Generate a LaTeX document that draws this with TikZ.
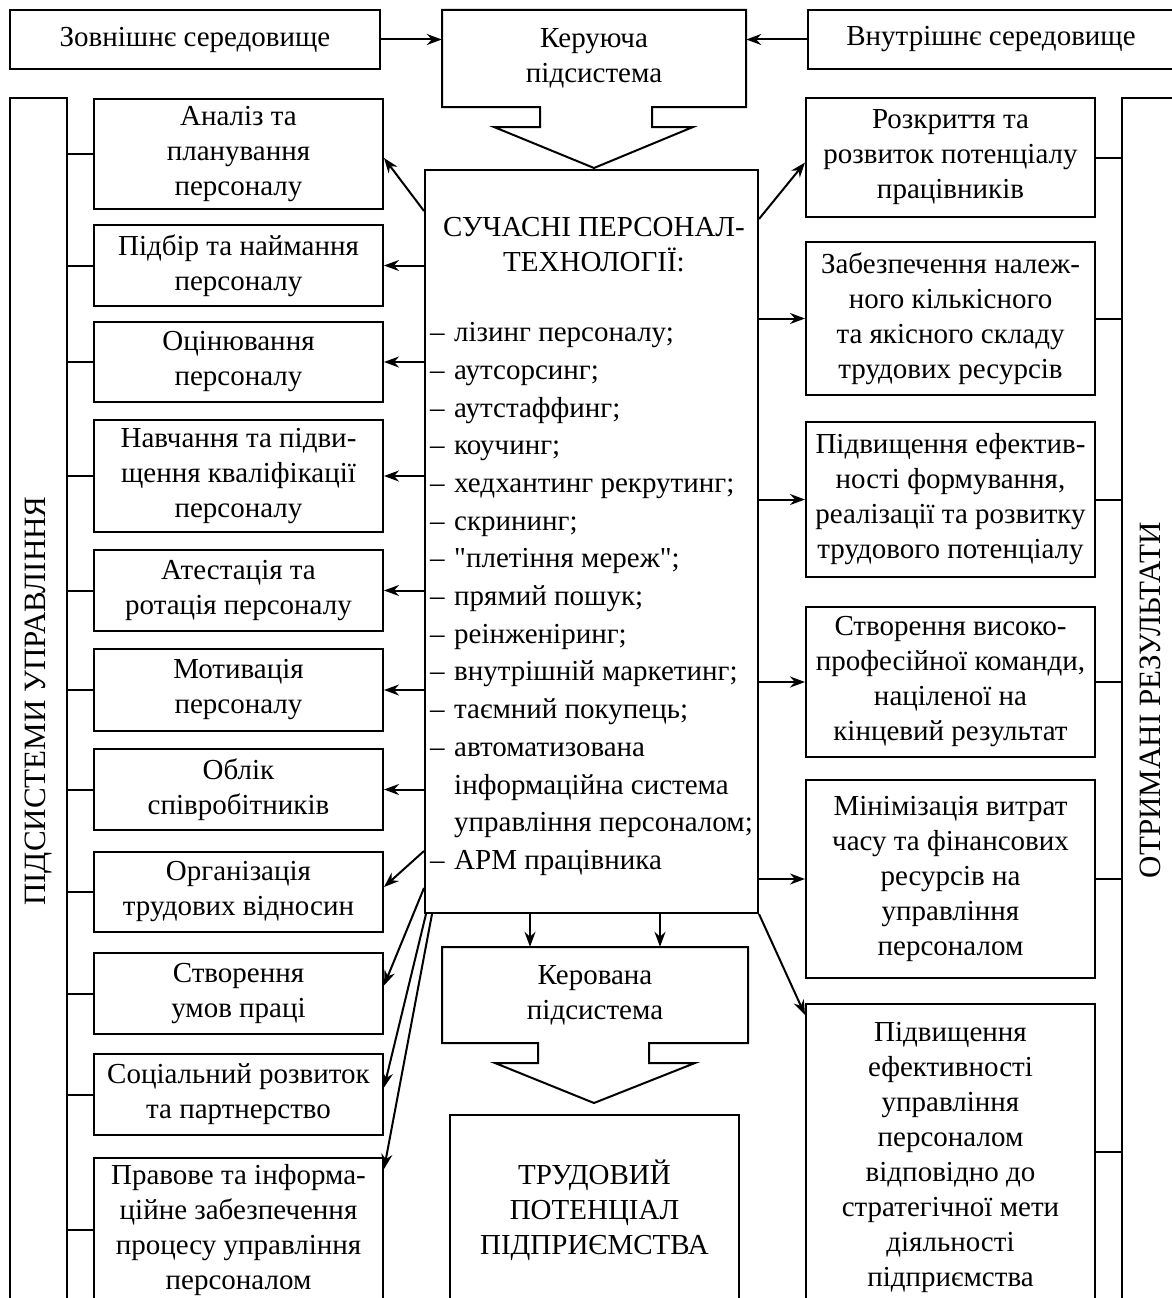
\documentclass[tikz,border=0pt]{standalone}
\usepackage{fontspec}
\setmainfont{Liberation Serif}[Ligatures=TeXOff]
\usetikzlibrary{shapes.geometric, arrows.meta, positioning}
\tikzstyle{box} = [rectangle, draw=black, line width=2pt, inner sep=0pt, align=center, text centered, font=\fontsize{29}{35}\selectfont]
\tikzstyle{txt} = [inner sep=0pt, align=center, font=\fontsize{29}{35}\selectfont]
\tikzstyle{sidetxt} = [inner sep=0pt, rotate=90, font=\fontsize{31}{35}\selectfont]
\tikzstyle{arrow} = [line width=2pt, -{Stealth[length=15pt, width=11pt]}]
\tikzstyle{wire} = [line width=2pt]
\newcommand{\dashitem}{\makebox[24pt][l]{–}}
\newcommand{\moreitem}{\hspace*{24pt}}

\begin{document}
\begin{tikzpicture}[x=1pt, y=-1pt]
      \useasboundingbox (0,0) rectangle (1172,1298);
      \clip (0,0) rectangle (1172,1298);

      % top row
      \node (extenv) [box, minimum width=370pt, minimum height=59pt] at (195,39.5) {Зовнішнє середовище};
      \node (intenv) [box, minimum width=366pt, minimum height=59pt] at (991,39.5) {Внутрішнє середовище};
      \draw [wire] (442,10) -- (746,10) -- (746,107) -- (652,107) -- (652,127) -- (693,127) -- (594,168)
            -- (494,127) -- (540,127) -- (540,107) -- (442,107) -- cycle;
      \node (ctrl) [txt, minimum width=304pt, minimum height=97pt] at (594,58.5) {Керуюча\\підсистема};
      \draw [arrow] (extenv.east) -- (extenv.east -| ctrl.west);
      \draw [arrow] (intenv.west) -- (intenv.west -| ctrl.east);

      % centre
      \node (tech) [box, minimum width=333pt, minimum height=743pt] at (591.5,541.5) {};
      \node (techtitle) [txt] at (594,245) {СУЧАСНІ ПЕРСОНАЛ-\\ТЕХНОЛОГІЇ:};
      \node (techlist) [txt, align=left, anchor=west, font=\fontsize{29}{37.7}\selectfont] at (430,599) {%
            \dashitem лізинг персоналу;\\
            \dashitem аутсорсинг;\\
            \dashitem аутстаффинг;\\
            \dashitem коучинг;\\
            \dashitem хедхантинг рекрутинг;\\
            \dashitem скрининг;\\
            \dashitem "плетіння мереж";\\
            \dashitem прямий пошук;\\
            \dashitem реінженіринг;\\
            \dashitem внутрішній маркетинг;\\
            \dashitem таємний покупець;\\
            \dashitem автоматизована\\
            \moreitem інформаційна система\\
            \moreitem управління персоналом;\\
            \dashitem АРМ працівника};

      \draw [wire] (442,947) -- (748,947) -- (748,1043) -- (649,1043) -- (649,1063) -- (695,1063) -- (594,1103)
            -- (495,1063) -- (538,1063) -- (538,1043) -- (442,1043) -- cycle;
      \node (managed) [txt, minimum width=306pt, minimum height=96pt] at (595,995) {Керована\\підсистема};
      \node (labpot) [box, minimum width=289pt, minimum height=190pt] at (594.5,1210) {ТРУДОВИЙ\\ПОТЕНЦІАЛ\\ПІДПРИЄМСТВА};
      \draw [arrow] ([xshift=-65pt]managed.north |- tech.south) -- ([xshift=-65pt]managed.north);
      \draw [arrow] ([xshift=65pt]managed.north |- tech.south) -- ([xshift=65pt]managed.north);

      % left column
      \node (subs) [box, minimum width=57pt, minimum height=1212pt] at (38.5,704) {};
      \node (subslabel) [sidetxt] at (39,701) {ПІДСИСТЕМИ УПРАВЛІННЯ};
      \node (anal) [box, minimum width=289pt, minimum height=110pt] at (238.5,154) {Аналіз та\\планування\\персоналу};
      \node (recr) [box, minimum width=289pt, minimum height=81pt] at (238.5,265.5) {Підбір та наймання\\персоналу};
      \node (eval) [box, minimum width=289pt, minimum height=80pt] at (238.5,362) {Оцінювання\\персоналу};
      \node (train) [box, minimum width=289pt, minimum height=112pt] at (238.5,476) {Навчання та підви-\\щення кваліфікації\\персоналу};
      \node (attest) [box, minimum width=289pt, minimum height=81pt] at (238.5,590.5) {Атестація та\\ротація персоналу};
      \node (motiv) [box, minimum width=289pt, minimum height=82pt] at (238.5,690) {Мотивація\\персоналу};
      \node (acct) [box, minimum width=289pt, minimum height=81pt] at (238.5,789.5) {Облік\\співробітників};
      \node (labrel) [box, minimum width=289pt, minimum height=80pt] at (238.5,892) {Організація\\трудових відносин};
      \node (cond) [box, minimum width=289pt, minimum height=81pt] at (238.5,993.5) {Створення\\умов праці};
      \node (social) [box, minimum width=289pt, minimum height=81pt] at (238.5,1094.5) {Соціальний розвиток\\та партнерство};
      \node (legal) [box, minimum width=289pt, minimum height=144pt] at (238.5,1230) {Правове та інформа-\\ційне забезпечення\\процесу управління\\персоналом};

      \draw [wire] (subs.east |- anal.west) -- (anal.west);
      \draw [wire] (subs.east |- recr.west) -- (recr.west);
      \draw [wire] (subs.east |- eval.west) -- (eval.west);
      \draw [wire] (subs.east |- train.west) -- (train.west);
      \draw [wire] (subs.east |- attest.west) -- (attest.west);
      \draw [wire] (subs.east |- motiv.west) -- (motiv.west);
      \draw [wire] (subs.east |- acct.west) -- (acct.west);
      \draw [wire] (subs.east |- labrel.west) -- (labrel.west);
      \draw [wire] (subs.east |- cond.west) -- (cond.west);
      \draw [wire] (subs.east |- social.west) -- (social.west);
      \draw [wire] (subs.east |- legal.west) -- (legal.west);

      \draw [arrow] ([yshift=-42pt]tech.north west) -- ([yshift=-4pt]anal.east);
      \draw [arrow] (tech.west |- recr.east) -- (recr.east);
      \draw [arrow] (tech.west |- eval.east) -- (eval.east);
      \draw [arrow] (tech.west |- train.east) -- (train.east);
      \draw [arrow] (tech.west |- attest.east) -- (attest.east);
      \draw [arrow] (tech.west |- motiv.east) -- (motiv.east);
      \draw [arrow] (tech.west |- acct.east) -- (acct.east);
      \draw [arrow] ([yshift=63pt]tech.south west) -- ([yshift=5pt]labrel.east);
      \draw [arrow] ([yshift=26pt]tech.south west) -- ([yshift=8pt]cond.east);
      \draw [arrow] ([xshift=2pt]tech.south west) -- ([yshift=7pt]social.east);
      \draw [arrow] ([xshift=8pt]tech.south west) -- ([yshift=-12pt]legal.north east);

      % right column
      \node (res) [box, minimum width=78pt, minimum height=1212pt] at (1161,704) {};
      \node (reslabel) [sidetxt] at (1150,700) {ОТРИМАНІ РЕЗУЛЬТАТИ};
      \node (reveal) [box, minimum width=289pt, minimum height=119pt] at (950.5,157.5) {Розкриття та\\розвиток потенціалу\\працівників};
      \node (staff) [box, minimum width=289pt, minimum height=153pt] at (950.5,318.5) {Забезпечення належ-\\ного кількісного\\та якісного складу\\трудових ресурсів};
      \node (effic) [box, minimum width=289pt, minimum height=155pt] at (950.5,499.5) {Підвищення ефектив-\\ності формування,\\реалізації та розвитку\\трудового потенціалу};
      \node (team) [box, minimum width=289pt, minimum height=150pt] at (950.5,682) {Створення високо-\\професійної команди,\\націленої на\\кінцевий результат};
      \node (cost) [box, minimum width=289pt, minimum height=198pt] at (950.5,879) {Мінімізація витрат\\часу та фінансових\\ресурсів на\\управління\\персоналом};
      \node (strat) [box, minimum width=289pt, minimum height=306pt] at (950.5,1157) {Підвищення\\ефективності\\управління\\персоналом\\відповідно до\\стратегічної мети\\діяльності\\підприємства};

      \draw [wire] (reveal.east) -- (reveal.east -| res.west);
      \draw [wire] (staff.east) -- (staff.east -| res.west);
      \draw [wire] (effic.east) -- (effic.east -| res.west);
      \draw [wire] (team.east) -- (team.east -| res.west);
      \draw [wire] (cost.east) -- (cost.east -| res.west);
      \draw [wire] ([yshift=5pt]strat.east) -- ([yshift=5pt]strat.east -| res.west);

      \draw [arrow] ([yshift=-50pt]tech.north east) -- ([yshift=-5pt]reveal.west);
      \draw [arrow] (tech.east |- staff.west) -- (staff.west);
      \draw [arrow] (tech.east |- effic.west) -- (effic.west);
      \draw [arrow] (tech.east |- team.west) -- (team.west);
      \draw [arrow] (tech.east |- cost.west) -- (cost.west);
      \draw [arrow] (tech.south east) -- ([yshift=-12pt]strat.north west);
    \end{tikzpicture}
\end{document}
